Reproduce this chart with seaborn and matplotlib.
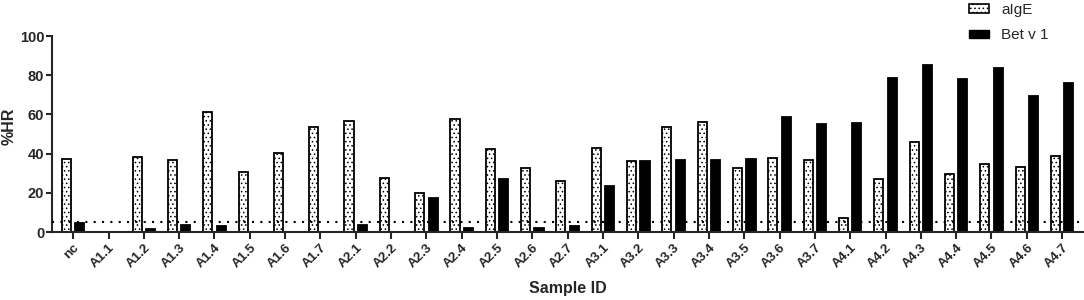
import matplotlib
matplotlib.use("Agg")
import matplotlib.pyplot as plt
from matplotlib.patches import Patch
import seaborn as sns
import pandas as pd

samples = ["nc",
           "A1.1", "A1.2", "A1.3", "A1.4", "A1.5", "A1.6", "A1.7",
           "A2.1", "A2.2", "A2.3", "A2.4", "A2.5", "A2.6", "A2.7",
           "A3.1", "A3.2", "A3.3", "A3.4", "A3.5", "A3.6", "A3.7",
           "A4.1", "A4.2", "A4.3", "A4.4", "A4.5", "A4.6", "A4.7"]
aige = [37.3, 0, 38.1, 36.8, 61.0, 30.4, 40.4, 53.8,
        56.4, 27.8, 19.8, 57.5, 42.4, 32.8, 26.1,
        42.9, 36.3, 53.8, 55.9, 32.9, 37.9, 36.8,
        7.2, 26.8, 45.7, 29.4, 34.9, 33.3, 38.9]
betv1 = [4.4, 0, 1.5, 3.6, 3.1, 0, 0, 0,
         3.6, 0, 17.4, 1.9, 27.0, 1.9, 3.3,
         23.4, 36.4, 36.9, 36.8, 37.4, 58.9, 54.9,
         55.4, 78.7, 85.4, 77.9, 83.9, 69.3, 75.9]
series = ["aIgE", "Bet v 1"]
threshold = 5
yticks = [0, 20, 40, 60, 80, 100]

df = pd.DataFrame({
    "Sample": samples * 2,
    "HR": aige + betv1,
    "Type": [series[0]] * len(samples) + [series[1]] * len(samples),
})

sns.set_style("ticks")
plt.rcParams["font.family"] = ["Liberation Sans", "DejaVu Sans"]
plt.rcParams["hatch.linewidth"] = 0.6
plt.rcParams["hatch.color"] = "0.35"

fig = plt.figure(figsize=(10.84, 3.0), dpi=100)
ax = fig.add_axes([52 / 1084, 1 - 232 / 300, 1 - 52 / 1084, (232 - 36) / 300])

sns.barplot(data=df, x="Sample", y="HR", hue="Type", order=samples,
            hue_order=series, palette={"aIgE": "white", "Bet v 1": "black"},
            width=0.76, gap=0.32, edgecolor="black", linewidth=1.3,
            saturation=1, ax=ax, legend=False)

for p in ax.containers[0]:
    p.set_hatch("....")
    if hasattr(p, "set_hatchcolor"):
        p.set_hatchcolor("0.35")

ax.axhline(threshold, color="black", lw=1.5, ls=(0, (1, 3)), zorder=5)

ax.set_ylim(0, 100)
ax.set_yticks(yticks)
ax.set_xlim(-0.6, 28.62)
for s in ["top", "right"]:
    ax.spines[s].set_visible(False)
for s in ["left", "bottom"]:
    ax.spines[s].set_linewidth(1.5)
ax.tick_params(axis="y", width=1.5, length=4, pad=1.5, labelsize=10.5)
ax.tick_params(axis="x", width=1.5, length=5, pad=2, labelsize=9.5)
for lab in ax.get_yticklabels():
    lab.set_fontweight("bold")
plt.setp(ax.get_xticklabels(), rotation=45, ha="right", rotation_mode="anchor",
         fontweight="bold")

ax.set_xlabel("Sample ID", fontsize=11.5, fontweight="bold")
ax.xaxis.set_label_coords(568 / 1084, 1 - 289 / 300, transform=fig.transFigure)
ax.xaxis.label.set_va("center")
ax.set_ylabel("%HR", fontsize=11.5, fontweight="bold")
ax.yaxis.set_label_coords(9 / 1084, 1 - 126 / 300, transform=fig.transFigure)
ax.yaxis.label.set_va("center")

handles = [Patch(facecolor="white", edgecolor="black", hatch="....", lw=1.2, label=series[0]),
           Patch(facecolor="black", edgecolor="black", label=series[1])]
fig.legend(handles=handles, loc="upper left",
           bbox_to_anchor=(969 / 1084, 1 - 3 / 300), bbox_transform=fig.transFigure,
           frameon=False, fontsize=11, borderpad=0, borderaxespad=0,
           handlelength=1.3, handleheight=0.5, handletextpad=0.8, labelspacing=0.75)

fig.savefig("out.png", dpi=100)
